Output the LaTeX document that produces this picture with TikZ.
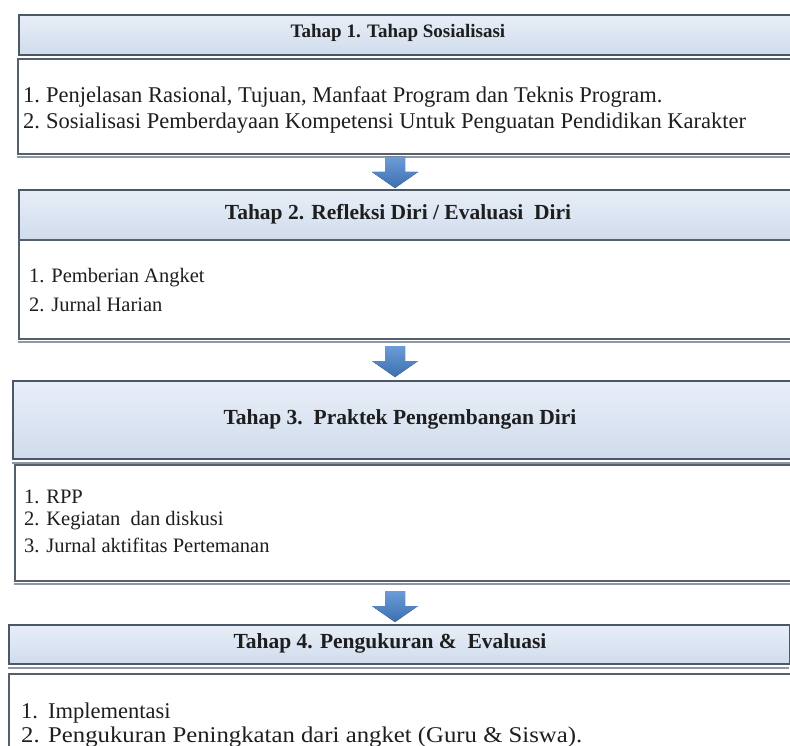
\documentclass[tikz,border=0pt]{standalone}
\usepackage{fontspec}
\setmainfont{Liberation Serif}
\definecolor{hdrtop}{HTML}{E8EEF8}
\definecolor{hdrbot}{HTML}{D0DCEC}
\definecolor{hdrline}{HTML}{4A5868}
\definecolor{boxline}{HTML}{55606A}
\definecolor{shadowc}{HTML}{8C98A4}
\definecolor{textc}{HTML}{1E1E1E}
\definecolor{arrtop}{HTML}{6C9CD8}
\definecolor{arrbot}{HTML}{3C6FB0}
\begin{document}
\begin{tikzpicture}[x=1pt,y=-1pt,
  hdr/.style={draw=hdrline, line width=1.8pt, top color=hdrtop, bottom color=hdrbot, anchor=north west, inner sep=0pt},
  bodybox/.style={draw=boxline, line width=1.6pt, fill=white, anchor=north west, inner sep=0pt},
  shade/.style={draw=shadowc, line width=1.4pt},
  htext/.style={font=\bfseries\fontsize{21.5}{26}\selectfont, text=textc, inner sep=0pt},
  btext/.style={font=\fontsize{22.5}{27}\selectfont, text=textc, anchor=west, inner sep=0pt},
  btextsmall/.style={btext, font=\fontsize{20.5}{25}\selectfont},
  downarr/.pic={\fill[top color=arrtop, bottom color=arrbot]
     (-10,0) -- (10,0) -- (10,15) -- (23,15) -- (0,31) -- (-23,15) -- (-10,15) -- cycle;}
]
\useasboundingbox (0,0) rectangle (790,746);
\fill[white] (0,0) rectangle (790,746);
\begin{scope}
\clip (0,0) rectangle (790,746);
% stage 1
\node[hdr, minimum width=777pt, minimum height=40pt] (h1) at (18,14) {};
\draw[shade] (h1.south west) ++(0,3) -- ++(777,0);
\node[bodybox, minimum width=778pt, minimum height=95pt] (b1) at (17,58) {};
\draw[shade] (b1.south west) ++(0,2.5) -- ++(778,0);
% stage 2
\node[hdr, minimum width=777pt, minimum height=50pt] (h2) at (18,189) {};
\node[bodybox, minimum width=777pt, minimum height=99pt] (b2) at (18,239) {};
\draw[shade] (b2.south west) ++(0,2.5) -- ++(777,0);
% stage 3
\node[hdr, minimum width=783pt, minimum height=78pt] (h3) at (12,380) {};
\draw[shade] (h3.south west) ++(0,3) -- ++(783,0);
\node[bodybox, minimum width=781pt, minimum height=116pt] (b3) at (14,464) {};
\draw[shade] (b3.south west) ++(0,2.5) -- ++(781,0);
% stage 4
\node[hdr, minimum width=781pt, minimum height=39pt] (h4) at (8,624) {};
\draw[shade] (h4.south west) ++(0,3) -- ++(781,0);
\node[bodybox, minimum width=787pt, minimum height=90pt] (b4) at (8,673) {};
\end{scope}
% arrows
\coordinate (a1) at (395,157);
\coordinate (a2) at (395,346);
\coordinate (a3) at (395,591);
\pic at (a1) {downarr};
\pic at (a2) {downarr};
\pic at (a3) {downarr};
% header texts
\node[htext, font=\bfseries\fontsize{19}{23}\selectfont] (t1) at (398,33) {Tahap 1. Tahap Sosialisasi};
\node[htext] (t2) at (398,214) {Tahap 2. Refleksi Diri / Evaluasi\ \ Diri};
\node[htext] (t3) at (400,419) {Tahap 3.\ \ Praktek Pengembangan Diri};
\node[htext] (t4) at (390,643) {Tahap 4. Pengukuran \&\ \ Evaluasi};
% body texts
\node[btext] (l11) at (23,97) {\makebox[23pt][l]{1.}Penjelasan Rasional, Tujuan, Manfaat Program dan Teknis Program.};
\node[btext] (l12) at (23,123) {\makebox[23pt][l]{2.}Sosialisasi Pemberdayaan Kompetensi Untuk Penguatan Pendidikan Karakter};
\node[btextsmall] (l21) at (29,278) {1. Pemberian Angket};
\node[btextsmall] (l22) at (29,305) {2. Jurnal Harian};
\node[btextsmall] (l31) at (24,497) {1. RPP};
\node[btextsmall] (l32) at (24,521) {2. Kegiatan\ \ dan diskusi};
\node[btextsmall] (l33) at (24,545) {3. Jurnal aktifitas Pertemanan};
\node[btext] (l41) at (21,713) {\makebox[27pt][l]{1.}Implementasi};
\node[btext, xscale=1.1] (l42) at (21,737) {\makebox[24.5pt][l]{2.}Pengukuran Peningkatan\ dari angket (Guru \& Siswa).};
\end{tikzpicture}
\end{document}
